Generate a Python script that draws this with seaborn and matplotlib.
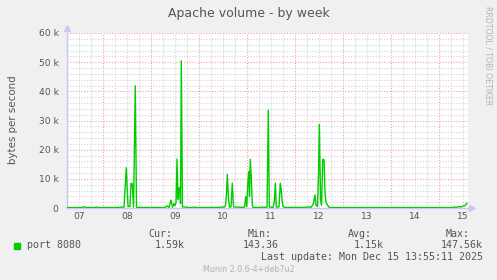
import matplotlib
matplotlib.use("Agg")
import matplotlib.pyplot as plt
import seaborn as sns
import pandas as pd

# ---- data (days since Dec 07 00:00, bytes per second) ----
day_labels = ["07", "08", "09", "10", "11", "12", "13", "14", "15"]
times = [
    0.243, 0.55, 0.598, 0.64, 0.82, 0.863, 0.90, 1.30, 1.35, 1.433,
    1.481, 1.517, 1.558, 1.579, 1.606, 1.632, 1.669, 1.694, 1.725,
    2.25, 2.289, 2.331, 2.372, 2.414, 2.446, 2.477, 2.498, 2.519, 2.540,
    2.560, 2.575, 2.596, 2.613, 2.629, 2.654, 2.742, 2.769, 2.87, 2.90, 2.93,
    3.437, 3.479, 3.521, 3.552, 3.573, 3.590, 3.615, 3.636, 3.667, 3.694,
    3.719, 3.771, 3.834, 3.875,
    3.949, 3.974, 3.995, 4.016, 4.037, 4.053, 4.070, 4.091, 4.112, 4.127,
    4.294, 4.336, 4.398, 4.419, 4.446, 4.467, 4.545, 4.572, 4.592, 4.613,
    4.669, 4.696, 4.717, 4.731, 4.752, 4.794,
    5.212, 5.296, 5.337, 5.389, 5.420, 5.441, 5.473, 5.494, 5.511, 5.536,
    5.557, 5.582, 5.609, 5.630, 5.650, 5.682, 5.713, 5.754,
    8.281, 8.329, 8.354, 8.427, 8.468, 8.510, 8.551, 8.593,
]
values = [
    150, 160, 450, 160, 150, 300, 150, 160, 300, 300,
    13800, 500, 500, 8500, 8300, 300, 41900, 300, 200,
    160, 200, 700, 200, 2700, 300, 1500, 800, 1800, 16800,
    3000, 6700, 7000, 1500, 50500, 400, 300, 150, 160, 350, 150,
    200, 400, 200, 800, 5000, 11500, 3000, 300, 400, 8500,
    400, 300, 300, 200,
    300, 3900, 500, 8000, 12500, 4000, 16700, 10000, 1000, 200,
    200, 300, 200, 300, 33600, 400, 200, 2000, 8500, 300,
    400, 8500, 6000, 3000, 500, 200,
    200, 400, 200, 1500, 4500, 1000, 500, 12000, 28700, 3000,
    1000, 16700, 16500, 5000, 2000, 1000, 300, 150,
    150, 400, 150, 500, 300, 700, 800, 1600,
]
series_name = "port 8080"
stats_labels = ["Cur:", "Min:", "Avg:", "Max:"]
stats_values = ["1.59k", "143.36", "1.15k", "147.56k"]
y_ticks = [0, 10000, 20000, 30000, 40000, 50000, 60000]
y_tick_labels = ["0", "10 k", "20 k", "30 k", "40 k", "50 k", "60 k"]

df = pd.DataFrame({"day": times, "bytes": values})

W, H = 497, 280
fig = plt.figure(figsize=(W / 100, H / 100), dpi=100)
fig.patch.set_facecolor("#F0F0F0")

def fx(px):
    return px / W

def fy(py):
    return 1 - py / H

L, R, T, B = 67, 468, 33, 208
ax = fig.add_axes([fx(L), fy(B), (R - L) / W, (B - T) / H])
ax.set_facecolor("white")

xmin, xmax = 0.243, 0.243 + (R - L) / 47.9
ax.set_xlim(xmin, xmax)
ax.set_ylim(0, 60000)

# grid
minor_c = "#d4d4d4"
major_c = "#f4a0a0"
dots = (0, (1, 1.5))
import numpy as np
for k in range(0, 61, 2):
    yv = k * 1000
    if k % 10 == 0:
        continue
    ax.axhline(yv, color=minor_c, lw=0.8, ls=dots, zorder=1)
q = 0.0
vx = [i * 0.25 for i in range(0, 40)]
for v in vx:
    if v < xmin or v > xmax + 0.01:
        continue
    if abs(v - round(v)) < 1e-9:
        ax.axvline(v, color=major_c, lw=0.8, ls=dots, zorder=2)
    else:
        ax.axvline(v, color=minor_c, lw=0.8, ls=dots, zorder=1)
for yv in y_ticks[1:]:
    ax.axhline(yv, color=major_c, lw=0.8, ls=dots, zorder=2)

sns.lineplot(data=df, x="day", y="bytes", ax=ax, color="#00CC00", lw=1.0,
             estimator=None, sort=True, zorder=5, legend=False)

ax.set_xticks([i + 0.5 for i in range(len(day_labels))])
ax.set_xticklabels(day_labels)
ax.set_yticks(y_ticks)
ax.set_yticklabels(y_tick_labels)
ax.tick_params(axis="both", length=0, labelsize=6.6, colors="#555555")
ax.tick_params(axis="y", pad=6)
ax.tick_params(axis="x", pad=3)
ax.set_xlabel("")
ax.set_ylabel("")
for s in ["top", "right"]:
    ax.spines[s].set_visible(False)
ax.spines["left"].set_color("#c8c8f8")
ax.spines["bottom"].set_color("#c8c8f8")
ax.spines["left"].set_linewidth(1.0)
ax.spines["bottom"].set_linewidth(1.0)
ax.plot([0], [1.03], marker="^", color="#c8c8f8", ms=4, transform=ax.transAxes, clip_on=False)
ax.plot([1.01], [0], marker=">", color="#c8c8f8", ms=4, transform=ax.transAxes, clip_on=False)

# texts
fig.text(fx(249), fy(13), "Apache volume - by week", ha="center", va="center",
         fontsize=9, color="#555555", family="DejaVu Sans")
fig.text(fx(13), fy(120), "bytes per second", ha="center", va="center",
         rotation=90, fontsize=7.4, color="#555555", family="DejaVu Sans")
fig.text(fx(488), fy(56), "RRDTOOL / TOBI OETIKER", ha="center", va="center",
         rotation=270, fontsize=5.6, color="#b4b4b4", family="DejaVu Sans")

mono = "DejaVu Sans Mono"
fs = 7.2
fig.patches.append(plt.Rectangle((fx(14), fy(248.5)), 6 / W, 6 / H,
                                 transform=fig.transFigure, color="#00CC00"))
fig.text(fx(27), fy(245.5), series_name, ha="left", va="center", fontsize=fs,
         color="#555555", family=mono)
head_x = [160, 260, 360, 458]
val_x = [185, 279, 384, 483]
for hx, lab in zip(head_x, stats_labels):
    fig.text(fx(hx), fy(234), lab, ha="center", va="center", fontsize=fs,
             color="#555555", family=mono)
for vx_, val in zip(val_x, stats_values):
    fig.text(fx(vx_), fy(245.5), val, ha="right", va="center", fontsize=fs,
             color="#555555", family=mono)
fig.text(fx(483), fy(257.5), "Last update: Mon Dec 15 13:55:11 2025", ha="right",
         va="center", fontsize=fs, color="#555555", family=mono)
fig.text(fx(249), fy(269.5), "Munin 2.0.6-4+deb7u2", ha="center", va="center",
         fontsize=5.8, color="#b4b4b4", family="DejaVu Sans")

fig.savefig("out.png", dpi=100, facecolor=fig.get_facecolor())
